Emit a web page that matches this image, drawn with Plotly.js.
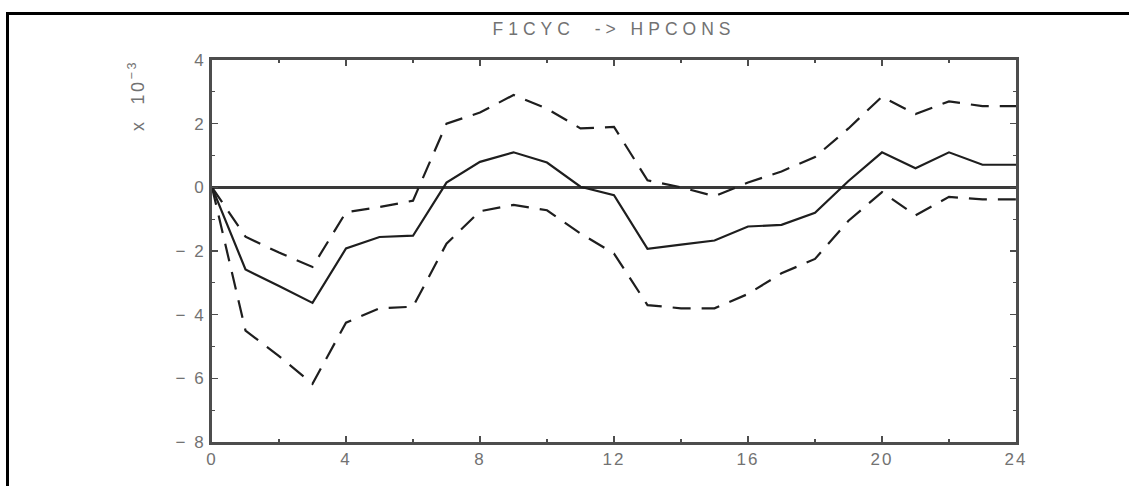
<!DOCTYPE html>
<html>
<head>
<meta charset="utf-8">
<script src="https://cdn.plot.ly/plotly-3.0.1.min.js"></script>
<style>
  html, body { margin: 0; padding: 0; background: #fff; }
  #chart { width: 1129px; height: 486px; position: absolute; left: 0; top: 0; }
  #frame { position: absolute; left: 6px; top: 12px; width: 1130px; height: 480px;
           border-top: 3px solid #000; border-left: 3px solid #000; pointer-events: none; }
  .gtitle { letter-spacing: 5px; }
  .xtick text, .ytick text { letter-spacing: 2px; }
  .annotation-text { letter-spacing: 2.5px; }
</style>
</head>
<body>
<div id="chart"></div>
<div id="frame"></div>
<script>
const lags = [0,1,2,3,4,5,6,7,8,9,10,11,12,13,14,15,16,17,18,19,20,21,22,23,24];
const irf = [0, -2.58, -3.1, -3.63, -1.92, -1.56, -1.52, 0.15, 0.8, 1.1, 0.78, 0.02, -0.25, -1.93, -1.8, -1.67, -1.23, -1.18, -0.8, 0.2, 1.1, 0.6, 1.1, 0.71, 0.71];
const upper = [0, -1.55, -2.05, -2.5, -0.78, -0.62, -0.42, 2.0, 2.35, 2.9, 2.47, 1.85, 1.9, 0.22, 0.0, -0.28, 0.15, 0.5, 0.95, 1.85, 2.85, 2.3, 2.7, 2.55, 2.55];
const lower = [0, -4.5, -5.3, -6.17, -4.25, -3.8, -3.75, -1.77, -0.75, -0.55, -0.72, -1.45, -2.08, -3.7, -3.8, -3.8, -3.35, -2.7, -2.25, -1.05, -0.15, -0.88, -0.3, -0.38, -0.38];
const xTicks = [0, 4, 8, 12, 16, 20, 24];
const yTicks = [-8, -6, -4, -2, 0, 2, 4];
const titleText = "F1CYC  -> HPCONS";
const scaleText = "x  10<sup>−3</sup>";

const lineColor = '#1e1e1e';
const dashPattern = '18px,11px';
const traces = [
  {x: lags, y: upper, mode: 'lines', line: {color: lineColor, width: 2.2, dash: dashPattern}, hoverinfo: 'skip'},
  {x: lags, y: lower, mode: 'lines', line: {color: lineColor, width: 2.2, dash: dashPattern}, hoverinfo: 'skip'},
  {x: lags, y: irf, mode: 'lines', line: {color: lineColor, width: 2.2}, hoverinfo: 'skip'}
];

const textGrey = '#727272';
const tickFont = {family: 'Liberation Sans, Arial, sans-serif', size: 17, color: textGrey};
const axisCommon = {
  showline: true, linecolor: '#4d4d4d', linewidth: 3, mirror: 'allticks',
  ticks: 'inside', ticklen: 6, tickwidth: 1.3, tickcolor: '#4d4d4d',
  showgrid: false, tickfont: tickFont, fixedrange: true
};

const layout = {
  width: 1129, height: 486,
  margin: {l: 212, r: 113, t: 60, b: 44},
  paper_bgcolor: '#fff', plot_bgcolor: '#fff',
  showlegend: false,
  title: {text: titleText, x: 0.5, xref: 'paper', y: 1 - 29/486, yref: 'container', yanchor: 'middle',
          font: {family: 'Liberation Sans, Arial, sans-serif', size: 17.5, color: textGrey}},
  xaxis: Object.assign({}, axisCommon, {
    range: [0, 24], tickvals: xTicks, ticktext: xTicks.map(String), zeroline: false,
    minor: {dtick: 2, tick0: 0, ticks: 'inside', ticklen: 3, tickcolor: '#4d4d4d', showgrid: false}
  }),
  yaxis: Object.assign({}, axisCommon, {
    range: [-8, 4], tickvals: yTicks, ticktext: yTicks.map(v => v < 0 ? '− ' + Math.abs(v) : String(v)),
    zeroline: true, zerolinecolor: '#3a3a3a', zerolinewidth: 2.4,
    minor: {dtick: 1, tick0: 0, ticks: 'inside', ticklen: 3, tickcolor: '#4d4d4d', showgrid: false}
  }),
  annotations: [{
    text: scaleText, xref: 'paper', yref: 'paper',
    x: (136 - 212) / 804, y: (442 - 96) / 382, xanchor: 'center', yanchor: 'middle',
    textangle: -90, showarrow: false,
    font: {family: 'Liberation Sans, Arial, sans-serif', size: 18, color: textGrey}
  }]
};

Plotly.newPlot('chart', traces, layout, {displayModeBar: false, staticPlot: true});
</script>
</body>
</html>
